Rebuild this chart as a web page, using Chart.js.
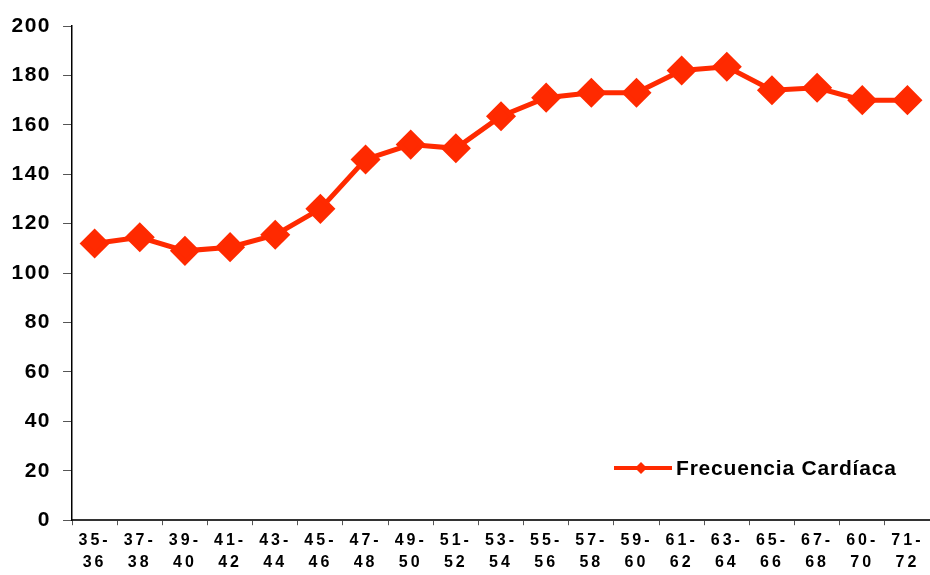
<!DOCTYPE html>
<html>
<head>
<meta charset="utf-8">
<script src="https://cdn.jsdelivr.net/npm/chart.js@4"></script>
<style>
  html, body { margin: 0; padding: 0; background: #fff; }
  #wrap { width: 930px; height: 575px; }
</style>
</head>
<body>
<div id="wrap"><canvas id="hrChart" width="930" height="575"></canvas></div>
<script>
const ageRanges = [
  ['35-', '36'], ['37-', '38'], ['39-', '40'], ['41-', '42'], ['43-', '44'],
  ['45-', '46'], ['47-', '48'], ['49-', '50'], ['51-', '52'], ['53-', '54'],
  ['55-', '56'], ['57-', '58'], ['59-', '60'], ['61-', '62'], ['63-', '64'],
  ['65-', '66'], ['67-', '68'], ['60-', '70'], ['71-', '72']
];
const heartRate = [112, 114.5, 109, 110.5, 115.5, 126, 146, 152, 150.5, 163.5,
  171, 173, 173, 182, 183.5, 174, 175, 170, 170];
const seriesName = 'Frecuencia Cardíaca';
const lineColor = '#ff2a00';

// wider letter spacing only for the x labels
const spacedLabels = {
  id: 'spacedLabels',
  beforeDraw(chart) {
    chart.ctx.letterSpacing = '1.5px';
    const x = chart.scales.x;
    if (!x._spaced) {
      const orig = x.drawLabels.bind(x);
      x.drawLabels = function (area) {
        chart.ctx.save();
        chart.ctx.letterSpacing = '3px';
        orig(area);
        chart.ctx.restore();
      };
      x._spaced = true;
    }
  }
};

// custom legend drawn inside the plot, bottom right
const insideLegend = {
  id: 'insideLegend',
  afterDraw(chart) {
    const ctx = chart.ctx;
    const y = 468;
    ctx.save();
    ctx.letterSpacing = '0.8px';
    ctx.strokeStyle = lineColor;
    ctx.lineWidth = 4;
    ctx.beginPath();
    ctx.moveTo(614, y);
    ctx.lineTo(672, y);
    ctx.stroke();
    ctx.fillStyle = lineColor;
    ctx.beginPath();
    ctx.moveTo(641, y - 6);
    ctx.lineTo(647, y);
    ctx.lineTo(641, y + 6);
    ctx.lineTo(635, y);
    ctx.closePath();
    ctx.fill();
    ctx.fillStyle = '#000';
    ctx.font = 'bold 21px "Liberation Sans", Arial, sans-serif';
    ctx.textBaseline = 'middle';
    ctx.textAlign = 'left';
    ctx.fillText(seriesName, 676, y + 1);
    ctx.restore();
  }
};

const ctx = document.getElementById('hrChart').getContext('2d');
new Chart(ctx, {
  type: 'line',
  data: {
    labels: ageRanges,
    datasets: [{
      label: seriesName,
      data: heartRate,
      borderColor: lineColor,
      backgroundColor: lineColor,
      borderWidth: 5,
      pointStyle: 'rectRot',
      pointRadius: 11.5,
      pointHoverRadius: 11.5,
      tension: 0,
      clip: false
    }]
  },
  options: {
    responsive: false,
    animation: false,
    layout: { autoPadding: false, padding: { top: 26, right: 0, left: 4, bottom: -3 } },
    plugins: {
      legend: { display: false },
      tooltip: { enabled: false }
    },
    scales: {
      x: {
        offset: true,
        grid: {
          offset: true,
          drawOnChartArea: false,
          drawTicks: true,
          tickLength: 5,
          tickColor: '#555'
        },
        border: { color: '#333', width: 2 },
        ticks: {
          color: '#000',
          maxRotation: 0,
          autoSkip: false,
          padding: 4,
          font: { family: '"Liberation Sans", Arial, sans-serif', size: 16, weight: 'bold', lineHeight: 1.4 }
        }
      },
      y: {
        min: 0,
        max: 200,
        grid: {
          drawOnChartArea: false,
          drawTicks: true,
          tickLength: 9,
          tickColor: '#555'
        },
        border: { color: '#000', width: 1.5 },
        ticks: {
          stepSize: 20,
          color: '#000',
          padding: 12,
          font: { family: '"Liberation Sans", Arial, sans-serif', size: 21, weight: 'bold' }
        }
      }
    }
  },
  plugins: [spacedLabels, insideLegend]
});
</script>
</body>
</html>
